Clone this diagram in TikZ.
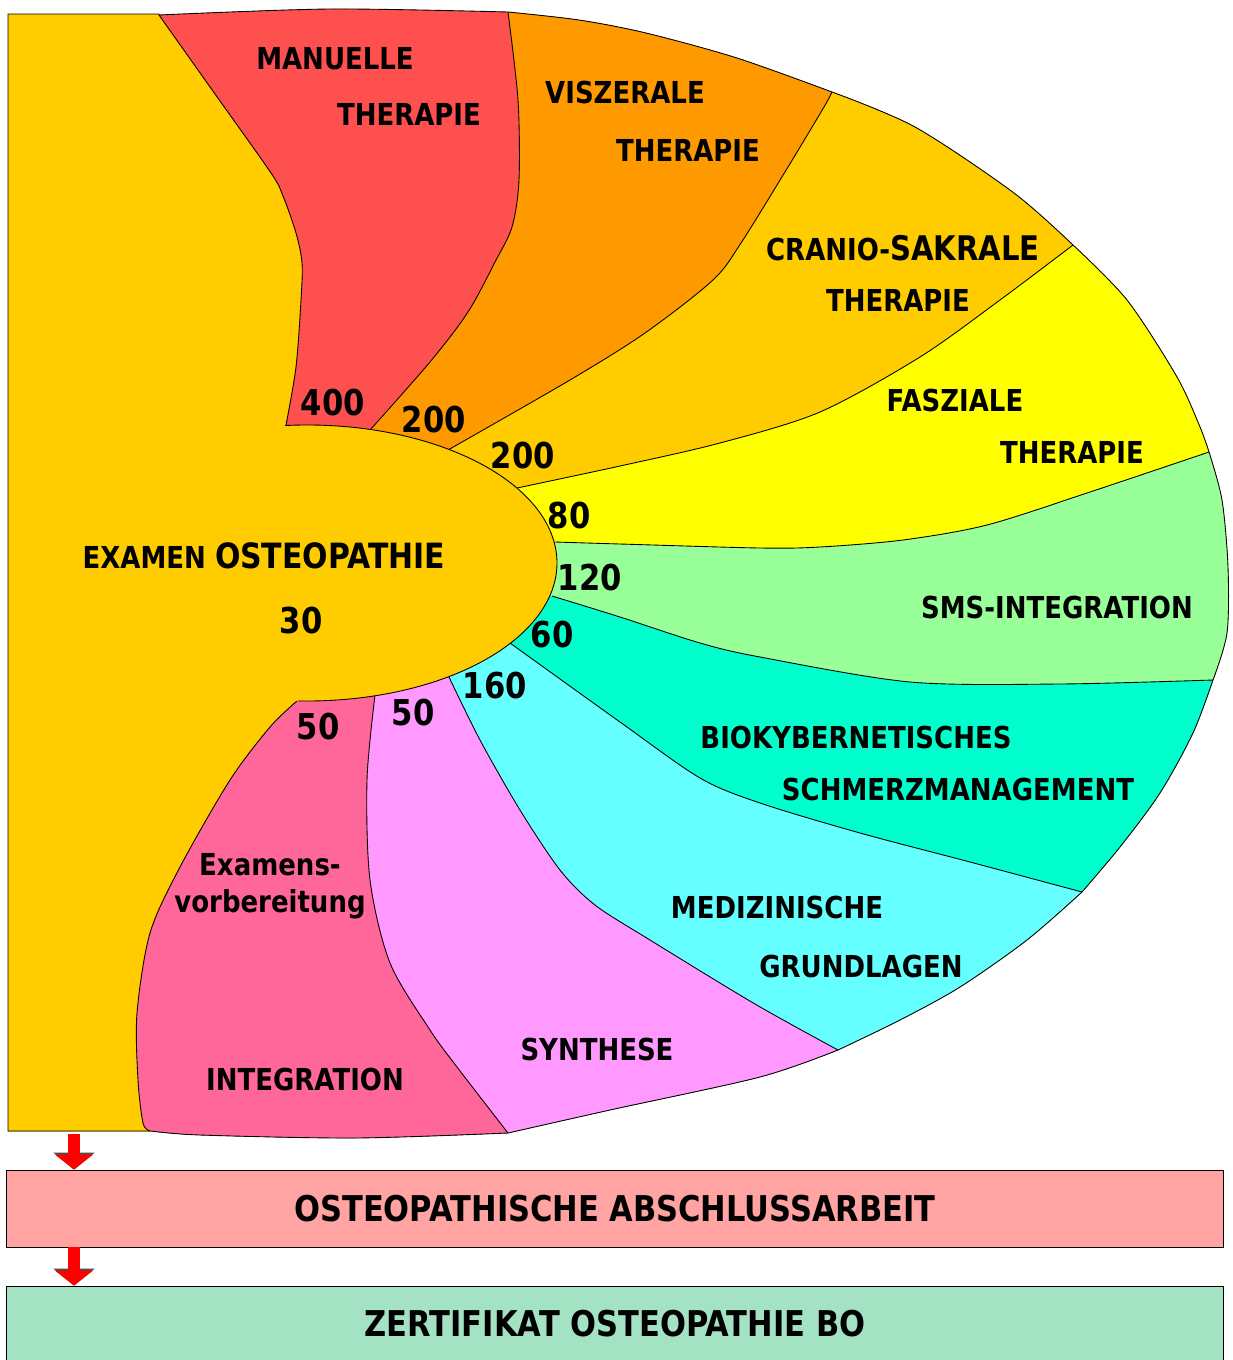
\documentclass[tikz,border=0pt]{standalone}
\usepackage{fontspec}
\setmainfont{DejaVu Sans}[FakeStretch = 0.86]
\usetikzlibrary{arrows.meta}
\definecolor{examgelb}{HTML}{FFCC00}
\definecolor{manrot}{HTML}{FF5050}
\definecolor{viszorange}{HTML}{FF9900}
\definecolor{faszgelb}{HTML}{FFFF00}
\definecolor{smsgruen}{HTML}{99FF99}
\definecolor{biotuerkis}{HTML}{00FFCC}
\definecolor{medcyan}{HTML}{66FFFF}
\definecolor{synthrosa}{HTML}{FF99FF}
\definecolor{integpink}{HTML}{FF6699}
\definecolor{abschlussrot}{HTML}{FFA3A3}
\definecolor{zertgruen}{HTML}{A3E2C3}
\newcommand{\schrift}{\node[anchor = base, inner sep = 0pt, font = \bfseries\fontsize{17.2}{20}\selectfont]}
\newcommand{\zahl}{\node[anchor = base, inner sep = 0pt, font = \bfseries\fontsize{20.3}{24}\selectfont]}
\tikzset{
	linie/.style = {draw = black, line width = 0.5pt},
	rand/.style = {insert path = {-- (159,14)
		-- plot[smooth] coordinates {(159,15) (330,9) (508,12)}
		-- plot[smooth] coordinates {(508,12) (579,20) (646,33) (737,58) (832,92)}
		-- plot[smooth] coordinates {(832,92) (915,127) (1014,193) (1073,245)}
		-- plot[smooth] coordinates {(1073,245) (1127,300) (1177,377) (1200,427) (1209,452)}
		-- plot[smooth] coordinates {(1209,452) (1222,500) (1228,567) (1227,633) (1213,680)}
		-- plot[smooth] coordinates {(1213,680) (1193,733) (1160,793) (1120,847) (1082,892)}
		-- plot[smooth] coordinates {(1082,892) (1027,940) (960,987) (900,1020) (838,1050)}
		-- plot[smooth] coordinates {(838,1050) (760,1077) (610,1110) (508,1133)}
		-- plot[smooth] coordinates {(508,1133) (355,1138) (200,1135) (151,1131)}
		-- (8,1131) -- cycle}},
	gA/.style = {insert path = {-- plot[smooth] coordinates {(286,425) (296,367) (301,300) (302,263) (296,233) (283,196) (271,173) (215,94) (159,15)}}},
	gB/.style = {insert path = {-- plot[smooth] coordinates {(370,430) (430,362) (468,312) (495,262) (512,227) (519,180) (518,100) (508,12)}}},
	gC/.style = {insert path = {-- plot[smooth] coordinates {(448,450) (570,380) (645,333) (713,280) (741,243) (788,167) (824,107) (832,92)}}},
	gD/.style = {insert path = {-- plot[smooth] coordinates {(517,488) (620,466) (720,443) (820,412) (920,357) (1000,300) (1073,245)}}},
	gE/.style = {insert path = {-- plot[smooth] coordinates {(555,542) (620,544) (760,548) (820,547) (903,540) (987,525) (1087,493) (1209,452)}}},
	gF/.style = {insert path = {-- plot[smooth] coordinates {(552,596) (620,617) (700,643) (760,657) (910,682) (1060,684) (1213,680)}}},
	gG/.style = {insert path = {-- plot[smooth] coordinates {(510,643) (620,722) (700,778) (760,803) (860,833) (970,862) (1082,892)}}},
	gH/.style = {insert path = {-- plot[smooth] coordinates {(448,675) (480,740) (520,810) (560,870) (595,905) (650,940) (755,1004) (838,1050)}}},
	gI/.style = {insert path = {-- plot[smooth] coordinates {(375,695) (367,780) (370,880) (390,963) (430,1030) (457,1067) (508,1133)}}},
	gJ/.style = {insert path = {-- plot[smooth] coordinates {(297,701) (270,727) (230,780) (180,867) (150,933) (137,1013) (138,1080) (143,1123) (150,1131)}}},
	kasten/.style = {draw = black, line width = 0.5pt, minimum width = 24.36cm, font = \bfseries\fontsize{20.2}{24}\selectfont},
	pfeil/.style = {draw = red, line width = 6.3pt, -{Triangle[width = 21.6pt, length = 8.5pt, line width = 0pt]},
		preaction = {draw = black!70, line width = 7.3pt, -{Triangle[width = 23.4pt, length = 9.6pt, line width = 0pt]}}}
}
\begin{document}
\begin{tikzpicture}[x = 0.02cm, y = -0.02cm]
					\useasboundingbox (0,0) rectangle (1232,1360);
					\begin{scope}
						\clip (8,14) [rand];
						\fill[examgelb] (-200,-200) rectangle (1500,1500);
						\fill[manrot] (307,563) [gA] -- (120,-200) -- (1500,-200) -- (1500,1500) -- (-200,1500) -- (-200,563) -- cycle;
						\fill[viszorange] (307,563) [gB] -- (505,-200) -- (1500,-200) -- (1500,1500) -- (-200,1500) -- (-200,563) -- cycle;
						\fill[examgelb] (307,563) [gC] -- (900,-200) -- (1500,-200) -- (1500,1500) -- (-200,1500) -- (-200,563) -- cycle;
						\fill[faszgelb] (307,563) [gD] -- (1300,60) -- (1500,1500) -- (-200,1500) -- (-200,563) -- cycle;
						\fill[smsgruen] (307,563) [gE] -- (1500,352) -- (1500,1500) -- (-200,1500) -- (-200,563) -- cycle;
						\fill[biotuerkis] (307,563) [gF] -- (1500,680) -- (1500,1500) -- (-200,1500) -- (-200,563) -- cycle;
						\fill[medcyan] (307,563) [gG] -- (1400,1030) -- (1500,1500) -- (-200,1500) -- (-200,563) -- cycle;
						\fill[synthrosa] (307,563) [gH] -- (1000,1400) -- (-200,1500) -- (-200,563) -- cycle;
						\fill[integpink] (307,563) [gI] -- (560,1400) -- (-200,1500) -- (-200,563) -- cycle;
						\fill[examgelb] (307,563) [gJ] -- (150,1400) -- (-200,1500) -- (-200,563) -- cycle;
					\end{scope}
					\draw[linie] (286,425) [gA];
					\draw[linie] (370,430) [gB];
					\draw[linie] (448,450) [gC];
					\draw[linie] (517,488) [gD];
					\draw[linie] (555,542) [gE];
					\draw[linie] (552,596) [gF];
					\draw[linie] (510,643) [gG];
					\draw[linie] (448,675) [gH];
					\draw[linie] (375,695) [gI];
					\draw[linie] (297,701) [gJ];
					\fill[examgelb] (307,563) ellipse [x radius = 250, y radius = 138];
					\draw[linie] (307,563) ++(-95:250 and 138) arc [start angle = -95, end angle = 92, x radius = 250, y radius = 138];
					\draw[linie] (8,14) [rand];
					\schrift (man1) at (335,69) {MANUELLE};
					\schrift (man2) at (409,125) {THERAPIE};
					\schrift (visz1) at (625,103) {VISZERALE};
					\schrift (visz2) at (688,161) {THERAPIE};
					\schrift (cranio1) at (903,260) {CRANIO-{\fontsize{19.3}{22}\selectfont SAKRALE}};
					\schrift (cranio2) at (898,311) {THERAPIE};
					\schrift (fasz1) at (955,411) {FASZIALE};
					\schrift (fasz2) at (1072,463) {THERAPIE};
					\schrift (sms) at (1057,618) {SMS-INTEGRATION};
					\schrift (bio1) at (856,748) {BIOKYBERNETISCHES};
					\schrift (bio2) at (958,800) {SCHMERZMANAGEMENT};
					\schrift (med1) at (777,918) {MEDIZINISCHE};
					\schrift (med2) at (861,977) {GRUNDLAGEN};
					\schrift (synth) at (597,1060) {SYNTHESE};
					\schrift (integ) at (305,1090) {INTEGRATION};
					\schrift (vorb1) at (270,875) {Examens-};
					\schrift (vorb2) at (270,912) {vorbereitung};
					\schrift (exam) at (264,568) {EXAMEN {\fontsize{19.8}{23}\selectfont OSTEOPATHIE}};
					\zahl (n30) at (301,633) {30};
					\zahl (n400) at (333,415) {400};
					\zahl (n200a) at (434,432) {200};
					\zahl (n200b) at (523,468) {200};
					\zahl (n80) at (569,528) {80};
					\zahl (n120) at (590,590) {120};
					\zahl (n60) at (552,647) {60};
					\zahl (n160) at (495,698) {160};
					\zahl (n50a) at (413,725) {50};
					\zahl (n50b) at (318,739) {50};
					\node[kasten, fill = abschlussrot, minimum height = 1.54cm] (abschluss) at (615,1208.5) {OSTEOPATHISCHE ABSCHLUSSARBEIT};
					\node[kasten, fill = zertgruen, minimum height = 1.52cm] (zertifikat) at (615,1324) {ZERTIFIKAT OSTEOPATHIE BO};
					\coordinate (start) at (74,1134);
					\draw[pfeil] (start) -- (abschluss.north -| start);
					\draw[pfeil] (abschluss.south -| start) -- (zertifikat.north -| start);
				\end{tikzpicture}
\end{document}
